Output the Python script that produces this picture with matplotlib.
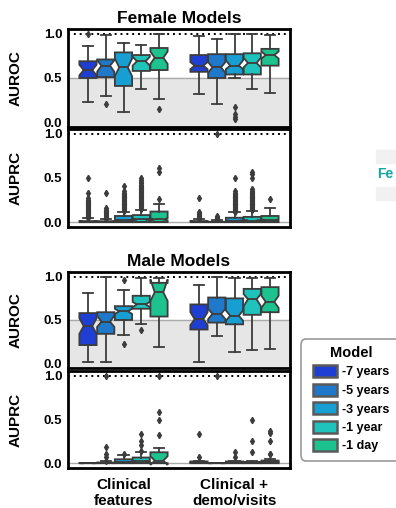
import matplotlib
matplotlib.use("Agg")
import matplotlib.pyplot as plt
from matplotlib.patches import Patch, Rectangle, FancyBboxPatch

plt.rcParams['font.family'] = ['Liberation Sans', 'DejaVu Sans']
plt.rcParams['font.weight'] = 'bold'

groups = ["Clinical\nfeatures", "Clinical +\ndemo/visits"]
models = ["-7 years", "-5 years", "-3 years", "-1 year", "-1 day"]
colors = ['#1f3fd4', '#1f78c9', '#179fd3', '#1fc3bb', '#1dc38f']

# stats per box: (whislo, q1, cilo, med, cihi, q3, whishi, fliers)
female_auroc = [
    [(0.23, 0.50, 0.53, 0.59, 0.65, 0.69, 0.86, [1.0]),
     (0.30, 0.51, 0.57, 0.64, 0.70, 0.71, 0.99, [0.21]),
     (0.12, 0.41, 0.52, 0.62, 0.72, 0.79, 0.90, []),
     (0.37, 0.58, 0.64, 0.69, 0.74, 0.76, 0.87, []),
     (0.26, 0.59, 0.66, 0.73, 0.80, 0.84, 1.00, [0.145])],
    [(0.32, 0.57, 0.60, 0.64, 0.68, 0.76, 0.98, []),
     (0.20, 0.50, 0.56, 0.62, 0.68, 0.77, 0.94, []),
     (0.50, 0.54, 0.60, 0.64, 0.70, 0.77, 1.00, [0.17, 0.09, 0.06, 0.03]),
     (0.37, 0.54, 0.62, 0.67, 0.73, 0.78, 1.00, []),
     (0.33, 0.64, 0.72, 0.76, 0.80, 0.83, 0.99, [])],
]
female_auprc = [
    [(0.0, 0.0, 0.0, 0.003, 0.006, 0.012, 0.045,
      [0.05, 0.06, 0.07, 0.08, 0.09, 0.10, 0.11, 0.12, 0.13, 0.14, 0.15, 0.16,
       0.17, 0.18, 0.19, 0.20, 0.21, 0.22, 0.23, 0.24, 0.25, 0.27, 0.33, 0.50]),
     (0.0, 0.0, 0.0, 0.003, 0.006, 0.010, 0.035,
      [0.04, 0.05, 0.06, 0.07, 0.08, 0.09, 0.10, 0.11, 0.12, 0.13, 0.14, 0.16, 0.33]),
     (0.0, 0.0, 0.012, 0.02, 0.028, 0.070, 0.12,
      [0.13, 0.14, 0.15, 0.16, 0.17, 0.18, 0.19, 0.20, 0.21, 0.22, 0.23, 0.24,
       0.25, 0.26, 0.27, 0.28, 0.29, 0.30, 0.31, 0.32, 0.33, 0.35, 0.41]),
     (0.0, 0.0, 0.02, 0.03, 0.04, 0.080, 0.14,
      [0.15, 0.16, 0.17, 0.18, 0.19, 0.20, 0.21, 0.22, 0.23, 0.24, 0.25, 0.26,
       0.27, 0.28, 0.29, 0.30, 0.31, 0.32, 0.33, 0.34, 0.35, 0.36, 0.37, 0.38,
       0.39, 0.40, 0.41, 0.42, 0.44, 0.46, 0.48, 0.50]),
     (0.0, 0.0, 0.02, 0.03, 0.045, 0.12, 0.20, [0.26, 0.57, 0.61])],
    [(0.0, 0.0, 0.0, 0.003, 0.006, 0.012, 0.035,
      [0.04, 0.05, 0.06, 0.07, 0.08, 0.09, 0.10, 0.11, 0.27]),
     (0.0, 0.0, 0.0, 0.001, 0.003, 0.005, 0.02, [0.03, 0.04, 0.05, 0.06, 0.07, 1.0]),
     (0.0, 0.0, 0.01, 0.015, 0.02, 0.05, 0.11,
      [0.12, 0.13, 0.14, 0.15, 0.16, 0.17, 0.18, 0.19, 0.20, 0.21, 0.22, 0.23,
       0.24, 0.25, 0.26, 0.27, 0.28, 0.29, 0.30, 0.31, 0.32, 0.33, 0.35, 0.50]),
     (0.0, 0.0, 0.012, 0.018, 0.024, 0.06, 0.13,
      [0.14, 0.15, 0.16, 0.17, 0.18, 0.19, 0.20, 0.21, 0.22, 0.23, 0.24, 0.25,
       0.26, 0.27, 0.28, 0.29, 0.30, 0.31, 0.32, 0.33, 0.34, 0.35, 0.37, 0.50,
       0.55, 0.57]),
     (0.0, 0.0, 0.01, 0.02, 0.03, 0.07, 0.16, [0.26])],
]
male_auroc = [
    [(0.01, 0.21, 0.34, 0.43, 0.52, 0.58, 0.81, []),
     (0.01, 0.34, 0.42, 0.48, 0.55, 0.59, 1.00, []),
     (0.33, 0.50, 0.57, 0.60, 0.63, 0.66, 0.85, [0.96, 0.22]),
     (0.45, 0.63, 0.65, 0.68, 0.71, 0.78, 0.99, [0.39]),
     (0.19, 0.54, 0.72, 0.82, 0.97, 0.93, 0.99, [])],
    [(0.02, 0.39, 0.44, 0.51, 0.59, 0.68, 0.91, []),
     (0.32, 0.47, 0.51, 0.57, 0.63, 0.76, 1.00, []),
     (0.13, 0.45, 0.49, 0.55, 0.61, 0.75, 0.99, []),
     (0.15, 0.56, 0.66, 0.74, 0.80, 0.86, 0.99, []),
     (0.16, 0.59, 0.64, 0.71, 0.78, 0.88, 0.99, [])],
]
male_auprc = [
    [(0.0, 0.0, 0.0, 0.0, 0.001, 0.002, 0.004, []),
     (0.0, 0.0, 0.0, 0.002, 0.004, 0.008, 0.02, [0.03, 0.07, 0.10, 0.18, 1.0]),
     (0.0, 0.0, 0.005, 0.01, 0.015, 0.045, 0.09, [0.11]),
     (0.0, 0.0, 0.012, 0.02, 0.03, 0.065, 0.125, [0.14, 0.21, 0.25, 0.33]),
     (0.0, 0.0, -0.02, 0.03, 0.08, 0.125, 0.17, [0.32, 0.49, 0.59, 1.0])],
    [(0.0, 0.0, 0.005, 0.01, 0.015, 0.02, 0.03, [0.075, 0.33]),
     (0.0, 0.0, 0.0, 0.0, 0.001, 0.002, 0.004, [1.0]),
     (0.0, 0.0, 0.005, 0.01, 0.015, 0.02, 0.03, [0.075, 0.13]),
     (0.0, 0.0, 0.003, 0.005, 0.008, 0.012, 0.02, [0.13, 0.25, 0.50]),
     (0.0, 0.0, 0.008, 0.012, 0.018, 0.03, 0.05, [0.10, 0.11, 0.25, 0.34, 0.37])],
]

EDGE = '#3c3c3c'
W = 0.155

fig = plt.figure(figsize=(3.96, 5.08), dpi=100)

def panel(rect, data, kind, ylabel, title=None, xlabels=False):
    ax = fig.add_axes(rect)
    ax.set_xlim(-0.5, 1.5)
    ax.set_ylim(-0.055, 1.055)
    if kind == 'roc':
        ax.axhspan(-0.1, 0.5, color='#e6e6e6', zorder=0)
        ax.axhline(0.5, color='#aaaaaa', lw=1.0, zorder=0.5)
    else:
        ax.axhline(0.0, color='#aaaaaa', lw=1.0, zorder=0.5)
    ax.axhline(1.0, color='black', lw=1.4, ls=(0, (1, 2)), zorder=0.6)
    for g, grp in enumerate(data):
        for i, s in enumerate(grp):
            wl, q1, cl, md, ch, q3, wh, fl = s
            st = dict(med=md, q1=q1, q3=q3, whislo=wl, whishi=wh,
                      fliers=fl, cilo=cl, cihi=ch)
            pos = g - 0.4 + 0.08 + 0.16 * i
            ax.bxp([st], positions=[pos], widths=W, patch_artist=True,
                   shownotches=True, capwidths=W * 0.6,
                   boxprops=dict(facecolor=colors[i], edgecolor=EDGE, lw=1.3),
                   medianprops=dict(color=EDGE, lw=1.3),
                   whiskerprops=dict(color=EDGE, lw=1.3),
                   capprops=dict(color=EDGE, lw=1.3),
                   flierprops=dict(marker='d', markersize=3.2,
                                   markerfacecolor=EDGE, markeredgecolor=EDGE))
    ax.set_yticks([0.0, 0.5, 1.0])
    ax.set_yticklabels(['0.0', '0.5', '1.0'], fontsize=9.5, fontweight='bold')
    ax.tick_params(axis='y', length=0, pad=4)
    ax.set_xticks([0, 1])
    if xlabels:
        ax.set_xticklabels(groups, fontsize=11, fontweight='bold', linespacing=1.2)
        ax.tick_params(axis='x', length=0, pad=7)
    else:
        ax.set_xticklabels([])
        ax.tick_params(axis='x', length=0)
    for sp in ax.spines.values():
        sp.set_linewidth(2.0)
        sp.set_color('black')
    ax.set_ylabel(ylabel, fontsize=11, fontweight='bold', labelpad=15)
    if title:
        ax.set_title(title, fontsize=12.5, fontweight='bold', pad=4)
    return ax

FW, FH = 396.0, 508.0
def r(l, t, rr, b):
    return [l / FW, 1 - b / FH, (rr - l) / FW, (b - t) / FH]

panel(r(68, 29, 290, 127), female_auroc, 'roc', 'AUROC', 'Female Models')
panel(r(68, 129, 290, 227), female_auprc, 'prc', 'AUPRC')
panel(r(68, 272, 290, 368), male_auroc, 'roc', 'AUROC', 'Male Models')
ax_last = panel(r(68, 371, 290, 468), male_auprc, 'prc', 'AUPRC', xlabels=True)

# legend frame (extends past the right edge, as in the cropped reference)
frame = FancyBboxPatch((301 / FW, 1 - 461 / FH), 110 / FW, 122 / FH,
                       boxstyle='round,pad=0,rounding_size=0.012',
                       transform=fig.transFigure, facecolor='white',
                       edgecolor='#9a9a9a', lw=1.2)
fig.patches.append(frame)

handles = [Patch(facecolor=c, edgecolor='#5a5a5a', lw=1.8) for c in colors]
leg = fig.legend(handles, models, title='Model', loc='upper left',
                 bbox_to_anchor=(313 / FW, 1 - 346 / FH), borderaxespad=0,
                 prop=dict(size=9, weight='bold'), title_fontproperties=dict(size=10.5, weight='bold'),
                 frameon=False,
                 handlelength=1.9, handleheight=1.1, labelspacing=0.42,
                 handletextpad=0.4, borderpad=0.0)

# cropped neighbour fragment at right edge
fig.patches.append(Rectangle((376 / FW, 1 - 163 / FH), 30 / FW, 13 / FH,
                             transform=fig.transFigure, color='#f1f1f1'))
fig.patches.append(Rectangle((376 / FW, 1 - 200 / FH), 30 / FW, 13 / FH,
                             transform=fig.transFigure, color='#f1f1f1'))
fig.text(377 / FW, 1 - 174 / FH, 'Fe', color='#17a5a0', fontsize=10,
         fontweight='bold', va='center', ha='left')

fig.savefig('out.png', dpi=100)
